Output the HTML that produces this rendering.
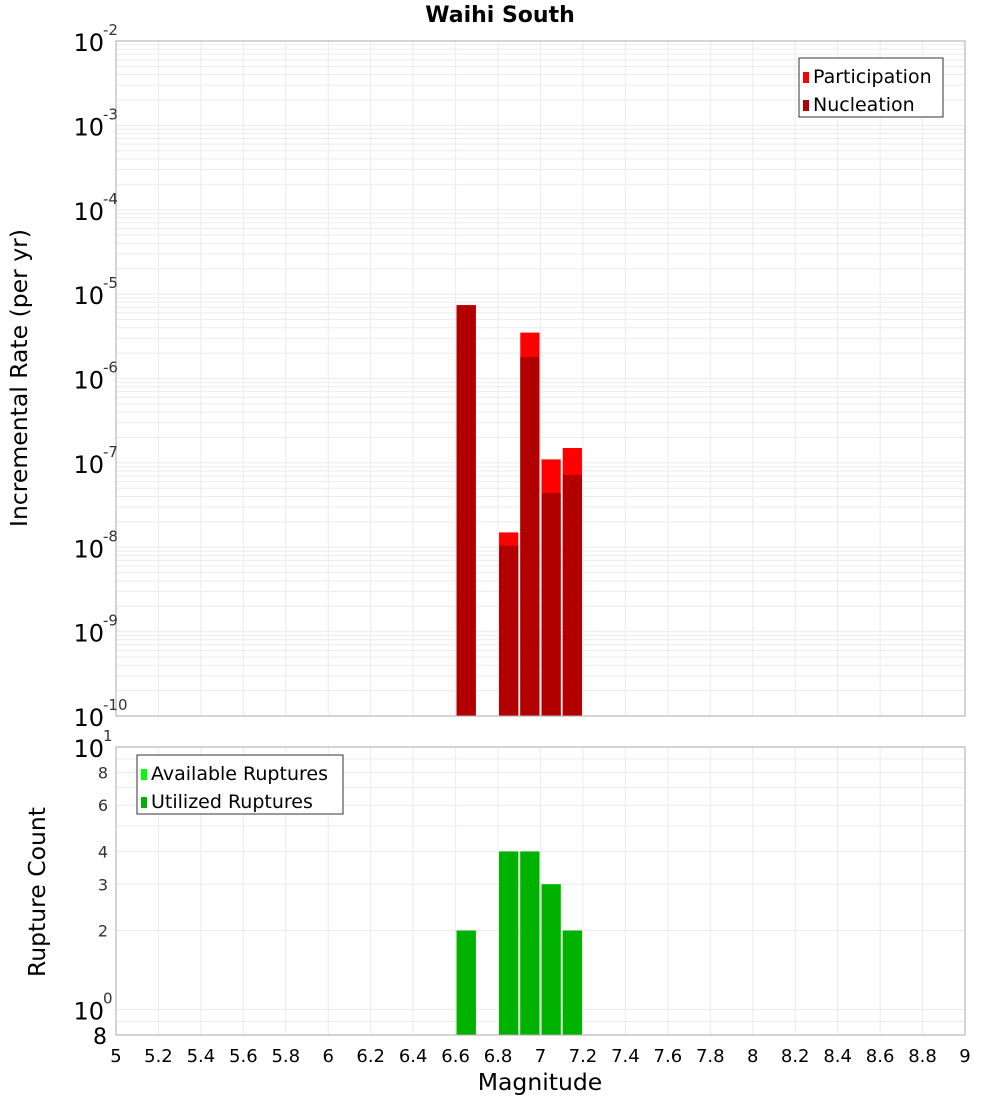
<!DOCTYPE html>
<html><head><meta charset="utf-8"><style>
body{margin:0;background:#fff;font-family:"DejaVu Sans","Liberation Sans",sans-serif;}
svg text{font-family:"DejaVu Sans","Liberation Sans",sans-serif;}
</style></head><body>
<svg id="chart" width="1000" height="1100" xmlns="http://www.w3.org/2000/svg">
<text x="500" y="22" text-anchor="middle" font-size="22" font-weight="bold">Waihi South</text>
<g id="topg"></g><g id="botg"></g>
<text transform="translate(27,378) rotate(-90)" text-anchor="middle" font-size="23.5">Incremental Rate (per yr)</text>
<text transform="translate(45,892) rotate(-90)" text-anchor="middle" font-size="23.5">Rupture Count</text>
<text x="540" y="1090" text-anchor="middle" font-size="23.5">Magnitude</text>
</svg>
<script>
const mags=[6.65,6.85,6.95,7.05,7.15];
const participation=[7.4e-6,1.5e-8,3.5e-6,1.1e-7,1.5e-7];
const nucleation=[7.4e-6,1.04e-8,1.8e-6,4.4e-8,7.2e-8];
const available=[2,4,4,3,2];
const utilized=[2,4,4,3,2];
const xTicks=[5,5.2,5.4,5.6,5.8,6,6.2,6.4,6.6,6.8,7,7.2,7.4,7.6,7.8,8,8.2,8.4,8.6,8.8,9];
const topExps=[-10,-9,-8,-7,-6,-5,-4,-3,-2];
const botTicks=[2,3,4,6,8];
const NS="http://www.w3.org/2000/svg";
const L=116,R=965,T1=41,B1=716,T2=747,B2=1035;
const X=v=>L+(v-5)/4*(R-L);
const Y1=v=>B1-(Math.log10(v)+10)/8*(B1-T1);
const lb2=Math.log10(0.8);
const Y2=v=>B2-(Math.log10(v)-lb2)/(1-lb2)*(B2-T2);
function el(p,t,a,txt){const e=document.createElementNS(NS,t);for(const k in a)e.setAttribute(k,a[k]);if(txt!=null)e.textContent=txt;p.appendChild(e);return e;}
const gTop=document.getElementById('topg'),gBot=document.getElementById('botg');
for(let e=-10;e<-2;e++)for(let m=1;m<10;m++){const y=Y1(m*Math.pow(10,e));const g=el(gTop,'line',{x1:L,x2:R,y1:y,y2:y,stroke:'#ebebeb','stroke-width':1});

}
xTicks.forEach(v=>{const g=el(gTop,'line',{x1:X(v),x2:X(v),y1:T1,y2:B1,stroke:'#ebebeb'});


const g2=el(gBot,'line',{x1:X(v),x2:X(v),y1:T2,y2:B2,stroke:'#ebebeb'});


const t=el(gBot,'text',{x:X(v),y:1062,'text-anchor':'middle','font-size':18},String(v));

});
[0.8,0.9,1,2,3,4,5,6,7,8,9,10].forEach(v=>{const g=el(gBot,'line',{x1:L,x2:R,y1:Y2(v),y2:Y2(v),stroke:'#ebebeb'});

});
mags.forEach((m,i)=>{const x=X(m-0.05)+1,w=X(m+0.05)-X(m-0.05)-2;
const p=el(gTop,'rect',{x:x,y:Y1(participation[i]),width:w,height:B1-Y1(participation[i]),fill:'#ff0000'});


const n=el(gTop,'rect',{x:x,y:Y1(nucleation[i]),width:w,height:B1-Y1(nucleation[i]),fill:'#b20000'});


const a=el(gBot,'rect',{x:x,y:Y2(available[i]),width:w,height:B2-Y2(available[i]),fill:'#00ff00'});


const u=el(gBot,'rect',{x:x,y:Y2(utilized[i]),width:w,height:B2-Y2(utilized[i]),fill:'#00b200'});

});
el(gTop,'rect',{x:L,y:T1,width:R-L,height:B1-T1,fill:'none',stroke:'#aaa'});
el(gBot,'rect',{x:L,y:T2,width:R-L,height:B2-T2,fill:'none',stroke:'#aaa'});
topExps.forEach(e=>{const y=Y1(Math.pow(10,e));const t=el(gTop,'text',{x:104,y:y+10,'text-anchor':'end','font-size':24},'10');


el(gTop,'text',{x:103,y:y-6,'font-size':15,fill:'#333'},String(e));});
[[10,'1'],[1,'0']].forEach(([v,s])=>{const y=Y2(v);const t=el(gBot,'text',{x:104,y:y+10,'text-anchor':'end','font-size':24},'10');


el(gBot,'text',{x:103,y:y-6,'font-size':15,fill:'#333'},s);});
botTicks.forEach(v=>{const t=el(gBot,'text',{x:108,y:Y2(v)+6,'text-anchor':'end','font-size':16,fill:'#333'},String(v));

});
const t8=el(gBot,'text',{x:107,y:B2+9,'text-anchor':'end','font-size':22},'8');


function legend(p,x,y,w,items,name){const g=el(p,'g',{});


el(g,'rect',{x:x,y:y,width:w,height:59,fill:'#fff',stroke:'#333'});
items.forEach((it,i)=>{el(g,'rect',{x:x+4,y:y+14+i*28,width:6,height:11,fill:it[1]});
el(g,'text',{x:x+14,y:y+25+i*28,'font-size':19},it[0]);});}
legend(gTop,799,58,144,[['Participation','#ff0000'],['Nucleation','#b20000']],'top-legend');
legend(gBot,137,755,206,[['Available Ruptures','#00ff00'],['Utilized Ruptures','#00b200']],'bottom-legend');
</script>
</body></html>
